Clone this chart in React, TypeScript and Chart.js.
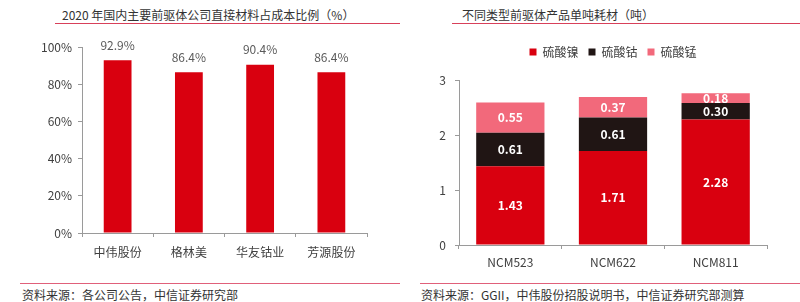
import React, { useEffect, useRef } from "react";
import { Chart, registerables } from "chart.js";

Chart.register(...registerables);

// ---- Data ----
const companies = ["中伟股份", "格林美", "华友钴业", "芳源股份"];
const materialShare = [92.9, 86.4, 90.4, 86.4];
const shareTicks = [0, 20, 40, 60, 80, 100];

const products = ["NCM523", "NCM622", "NCM811"];
const seriesNames = ["硫酸镍", "硫酸钴", "硫酸锰"];
const nickelSulfate = [1.43, 1.71, 2.28];
const cobaltSulfate = [0.61, 0.61, 0.3];
const manganeseSulfate = [0.55, 0.37, 0.18];
const tonTicks = [0, 1, 2, 3];

const FONT = '"Noto Sans CJK SC", "Noto Sans", sans-serif';
const RED = "#d9000f";
const BLACK = "#201514";
const PINK = "#f2697b";
const AXIS = "#9a9a9a";
const TEXT = "#404040";

const valueLabels = {
  id: "valueLabels",
  afterDatasetsDraw(chart: any, _args: any, opts: any) {
    const { ctx } = chart;
    ctx.save();
    ctx.font = opts.font;
    ctx.textAlign = "center";
    ctx.textBaseline = "middle";
    chart.data.datasets.forEach((ds: any, i: number) => {
      const meta = chart.getDatasetMeta(i);
      if (meta.hidden) return;
      meta.data.forEach((el: any, j: number) => {
        const v = ds.data[j];
        const p = el.getProps(["x", "y", "base"], true);
        const y = opts.position === "top" ? p.y - opts.offset : (p.y + p.base) / 2;
        ctx.fillStyle = opts.color;
        ctx.fillText(opts.format(v), p.x, y);
      });
    });
    ctx.restore();
  },
};

const legendHeight = {
  id: "legendHeight",
  beforeInit(chart: any) {
    const legend = chart.legend;
    if (!legend) return;
    const fit = legend.fit;
    legend.fit = function () {
      fit.call(legend);
      legend.height = 44;
    };
  },
};

function LeftChart() {
  const ref = useRef<HTMLCanvasElement>(null);
  useEffect(() => {
    const chart = new Chart(ref.current!, {
      type: "bar",
      data: {
        labels: companies,
        datasets: [
          {
            label: "直接材料占成本比例",
            data: materialShare,
            backgroundColor: RED,
            barPercentage: 0.78,
            categoryPercentage: 0.5,
          },
        ],
      },
      options: {
        responsive: false,
        animation: false,
        layout: { padding: { top: 17, right: 33, left: 0, bottom: 0 } },
        plugins: {
          legend: { display: false },
          tooltip: { enabled: false },
          valueLabels: {
            position: "top",
            offset: 15,
            font: `12px ${FONT}`,
            color: "#5a5a5a",
            format: (v: number) => v.toFixed(1) + "%",
          },
        } as any,
        scales: {
          x: {
            grid: { display: true, drawOnChartArea: false, drawTicks: true, tickLength: 4, color: AXIS, offset: true },
            border: { display: true, color: AXIS, width: 1 },
            ticks: { color: TEXT, font: { family: FONT, size: 12 }, padding: 8 },
            afterFit: (s: any) => {
              s.height = 37;
            },
          },
          y: {
            min: 0,
            max: 100,
            afterBuildTicks: (s: any) => {
              s.ticks = shareTicks.map((v) => ({ value: v }));
            },
            grid: { display: true, drawOnChartArea: false, drawTicks: true, tickLength: 4, color: AXIS },
            border: { display: true, color: AXIS, width: 1 },
            ticks: {
              color: TEXT,
              font: { family: FONT, size: 12 },
              padding: 6,
              callback: (v: any) => v + "%",
            },
            afterFit: (s: any) => {
              s.width = 82;
            },
          },
        },
      },
      plugins: [valueLabels as any],
    });
    return () => chart.destroy();
  }, []);
  return (
    <canvas
      ref={ref}
      width={400}
      height={240}
      style={{ position: "absolute", left: 0, top: 30, width: 400, height: 240 }}
    />
  );
}

function RightChart() {
  const ref = useRef<HTMLCanvasElement>(null);
  useEffect(() => {
    const common = { barPercentage: 1, categoryPercentage: 0.665 };
    const chart = new Chart(ref.current!, {
      type: "bar",
      data: {
        labels: products,
        datasets: [
          { label: seriesNames[0], data: nickelSulfate, backgroundColor: RED, ...common },
          { label: seriesNames[1], data: cobaltSulfate, backgroundColor: BLACK, ...common },
          { label: seriesNames[2], data: manganeseSulfate, backgroundColor: PINK, ...common },
        ],
      },
      options: {
        responsive: false,
        animation: false,
        layout: { padding: { top: 6, right: 33, left: 0, bottom: 0 } },
        plugins: {
          legend: {
            display: true,
            position: "top",
            fullSize: false,
            labels: {
              usePointStyle: true,
              pointStyle: "rect",
              boxWidth: 7,
              boxHeight: 7,
              padding: 10,
              color: TEXT,
              font: { family: FONT, size: 12 },
            },
          },
          tooltip: { enabled: false },
          valueLabels: {
            position: "center",
            font: `bold 12px ${FONT}`,
            color: "#ffffff",
            format: (v: number) => v.toFixed(2),
          },
        } as any,
        scales: {
          x: {
            stacked: true,
            grid: { display: true, drawOnChartArea: false, drawTicks: true, tickLength: 4, color: AXIS, offset: true },
            border: { display: true, color: AXIS, width: 1 },
            ticks: { color: TEXT, font: { family: FONT, size: 12 }, padding: 6 },
            afterFit: (s: any) => {
              s.height = 25;
            },
          },
          y: {
            stacked: true,
            min: 0,
            max: 3,
            afterBuildTicks: (s: any) => {
              s.ticks = tonTicks.map((v) => ({ value: v }));
            },
            grid: { display: true, drawOnChartArea: false, drawTicks: true, tickLength: 4, color: AXIS },
            border: { display: true, color: AXIS, width: 1 },
            ticks: { color: TEXT, font: { family: FONT, size: 12 }, padding: 9 },
            afterFit: (s: any) => {
              s.width = 59;
            },
          },
        },
      },
      plugins: [legendHeight as any, valueLabels as any],
    });
    return () => chart.destroy();
  }, []);
  return (
    <canvas
      ref={ref}
      width={400}
      height={240}
      style={{ position: "absolute", left: 400, top: 30, width: 400, height: 240 }}
    />
  );
}

const textStyle: React.CSSProperties = {
  position: "absolute",
  fontFamily: FONT,
  fontSize: 12,
  lineHeight: "16px",
  color: "#333333",
  whiteSpace: "nowrap",
};

function Line({ x1, x2, y, color }: { x1: number; x2: number; y: number; color: string }) {
  return (
    <div style={{ position: "absolute", left: x1, top: y, width: x2 - x1, height: 1.5, background: color }} />
  );
}

export default function App() {
  return (
    <div
      style={{
        position: "absolute",
        left: 0,
        top: 0,
        width: 800,
        height: 302,
        background: "#ffffff",
        overflow: "hidden",
      }}
    >
      <div style={{ ...textStyle, left: 62, top: 7 }}>2020 年国内主要前驱体公司直接材料占成本比例（%）</div>
      <div style={{ ...textStyle, left: 462, top: 7 }}>不同类型前驱体产品单吨耗材（吨）</div>
      <Line x1={55} x2={400} y={22.5} color="#d8405a" />
      <Line x1={452} x2={800} y={22.5} color="#d8405a" />
      <LeftChart />
      <RightChart />
      <Line x1={20} x2={400} y={282.5} color="#e0607a" />
      <Line x1={420} x2={800} y={282.5} color="#e0607a" />
      <div style={{ ...textStyle, left: 22, top: 287 }}>资料来源：各公司公告，中信证券研究部</div>
      <div style={{ ...textStyle, left: 421, top: 287 }}>资料来源：GGII，中伟股份招股说明书，中信证券研究部测算</div>
    </div>
  );
}
